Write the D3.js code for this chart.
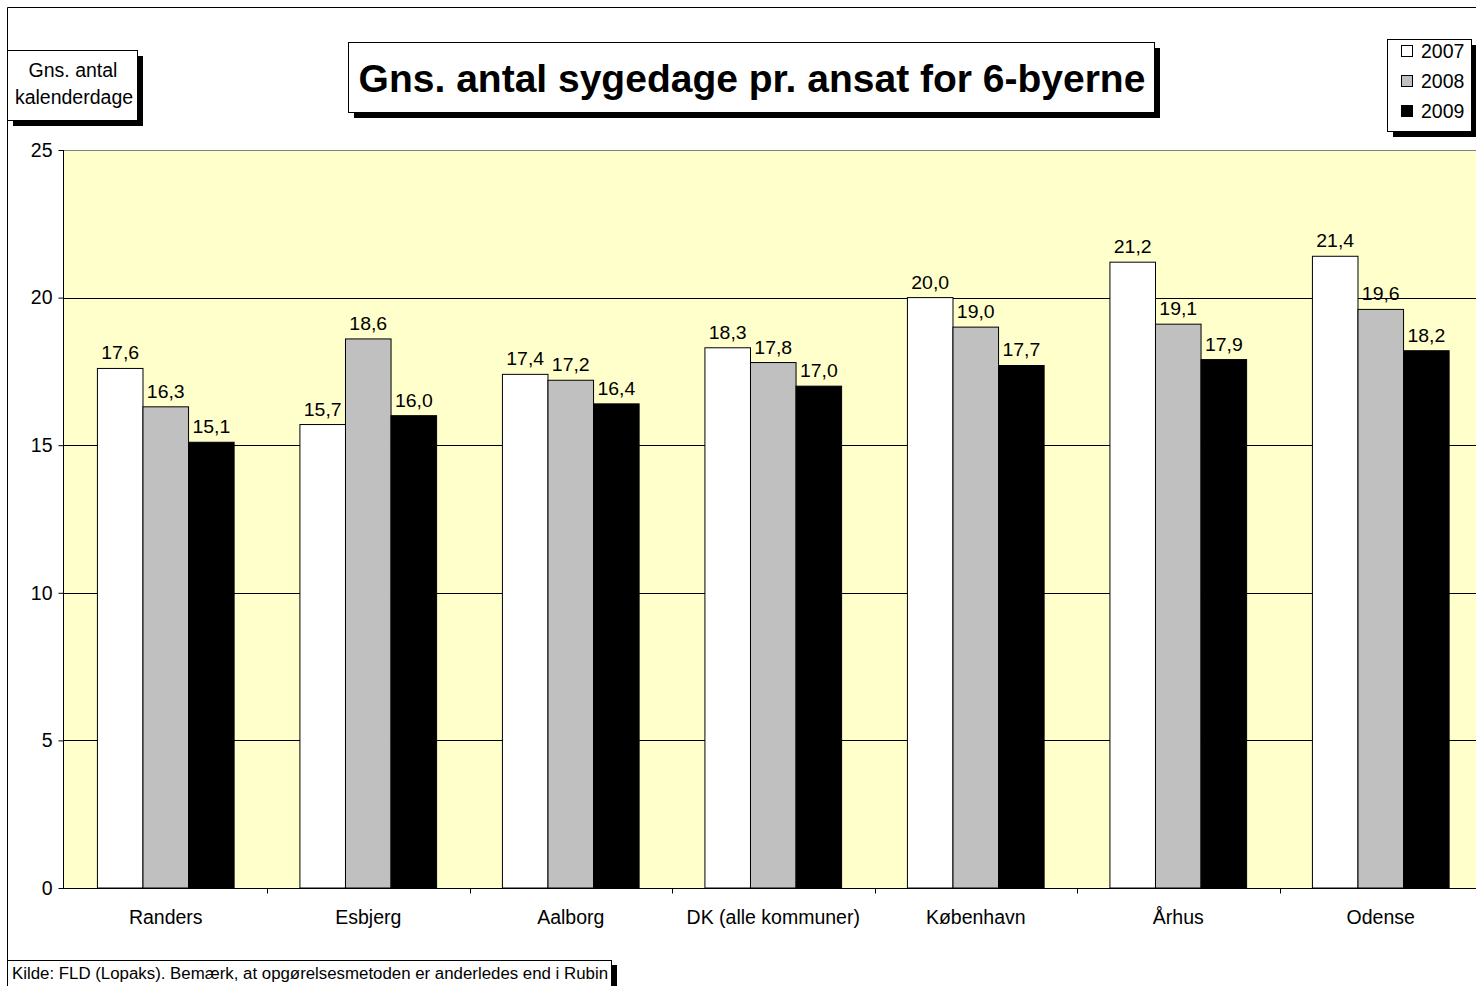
<!DOCTYPE html>
<html>
<head>
<meta charset="utf-8">
<script src="https://cdn.jsdelivr.net/npm/d3@7"></script>
<style>
  body { margin: 0; background: #fff; }
  svg { font-family: "Liberation Sans", Arial, sans-serif; }
</style>
</head>
<body>
<svg id="chart" width="1476" height="986"></svg>
<script>
// data
var cities = ["Randers", "Esbjerg", "Aalborg", "DK (alle kommuner)", "København", "Århus", "Odense"];
var years = ["2007", "2008", "2009"];
var v2007 = [17.6, 15.7, 17.4, 18.3, 20.0, 21.2, 21.4];
var v2008 = [16.3, 18.6, 17.2, 17.8, 19.0, 19.1, 19.6];
var v2009 = [15.1, 16.0, 16.4, 17.0, 17.7, 17.9, 18.2];
var yTicks = [0, 5, 10, 15, 20, 25];
var colors = ["#ffffff", "#c0c0c0", "#000000"];

var series = [v2007, v2008, v2009];
var svg = d3.select("#chart");
var fs = 19.5;

// outer chart border
svg.append("path").attr("d", "M7.5,986 V7.5 H1476").attr("fill", "none").attr("stroke", "#000");

var pLeft = 63, pTop = 150, pBottom = 888;
var pI = 0.325, pO = 0.17, step = 202.5;
var pRight = pLeft + step * (cities.length - pI + 2 * pO);

var x0 = d3.scaleBand().domain(cities).range([pLeft, pRight]).paddingInner(pI).paddingOuter(pO);
var x1 = d3.scaleBand().domain(years).range([0, x0.bandwidth()]);
var y = d3.scaleLinear().domain([0, 25]).range([pBottom, pTop]);

// plot background
svg.append("rect").attr("x", pLeft).attr("y", pTop).attr("width", pRight - pLeft).attr("height", pBottom - pTop)
  .attr("fill", "#ffffcc");
svg.append("line").attr("x1", pLeft).attr("x2", 1476).attr("y1", pTop + 0.5).attr("y2", pTop + 0.5)
  .attr("stroke", "#808080");

// gridlines
svg.append("g").selectAll("line").data(yTicks.filter(function(t){ return t > 0 && t < 25; }))
  .join("line")
  .attr("x1", pLeft).attr("x2", 1476)
  .attr("y1", function(d){ return Math.round(y(d)) + 0.5; })
  .attr("y2", function(d){ return Math.round(y(d)) + 0.5; })
  .attr("stroke", "#000");

// bars
var groups = svg.append("g").selectAll("g").data(cities).join("g")
  .attr("transform", function(d){ return "translate(" + x0(d) + ",0)"; });

function cells(d, i) {
  return years.map(function(yr, j){ return {year: yr, j: j, v: series[j][i]}; });
}

groups.selectAll("rect").data(cells)
  .join("rect")
  .attr("x", function(d){ return x1(d.year); })
  .attr("y", function(d){ return y(d.v); })
  .attr("width", x1.bandwidth())
  .attr("height", function(d){ return pBottom - y(d.v); })
  .attr("fill", function(d){ return colors[d.j]; })
  .attr("stroke", "#000").attr("stroke-width", 1);

// value labels (slightly wide, as in the original)
groups.selectAll("text").data(cells)
  .join("text")
  .attr("transform", function(d){
    return "translate(" + (x1(d.year) + x1.bandwidth() / 2) + "," + (y(d.v) - 9) + ") scale(1.08,1)";
  })
  .attr("text-anchor", "middle")
  .attr("font-size", 18)
  .text(function(d){ return d.v.toFixed(1).replace(".", ","); });

// y axis
var yAxis = svg.append("g").attr("transform", "translate(" + (pLeft + 0.5) + ",0)")
  .call(d3.axisLeft(y).tickValues(yTicks).tickSize(5).tickPadding(6).tickFormat(d3.format("d")));
yAxis.select(".domain").attr("d", "M0," + pTop + "V" + pBottom);
yAxis.selectAll("text").attr("font-size", fs).attr("font-family", "Liberation Sans, Arial, sans-serif")
  .attr("fill", "#000");
yAxis.selectAll("line").attr("stroke", "#000");

// x axis
var xAxis = svg.append("g").attr("transform", "translate(0," + (pBottom + 0.5) + ")");
xAxis.append("line").attr("x1", pLeft).attr("x2", 1476).attr("stroke", "#000");
xAxis.selectAll(".tk").data(cities).join("line")
  .attr("x1", function(d){ return Math.round(x0(d) + x0.bandwidth() / 2 + step / 2) + 0.5; })
  .attr("x2", function(d){ return Math.round(x0(d) + x0.bandwidth() / 2 + step / 2) + 0.5; })
  .attr("y1", 0).attr("y2", 5).attr("stroke", "#000");
xAxis.selectAll(".lbl").data(cities).join("text")
  .attr("x", function(d){ return x0(d) + x0.bandwidth() / 2; })
  .attr("y", 35)
  .attr("text-anchor", "middle")
  .attr("font-size", fs)
  .text(function(d){ return d; });

// box with drop shadow
function box(x, yy, w, h, off) {
  svg.append("rect").attr("x", x + off).attr("y", yy + off).attr("width", w).attr("height", h).attr("fill", "#000");
  svg.append("rect").attr("x", x + 0.5).attr("y", yy + 0.5).attr("width", w).attr("height", h)
    .attr("fill", "#fff").attr("stroke", "#000");
}

// title
box(348, 42, 806, 70, 6);
svg.append("text").attr("x", 752).attr("y", 92).attr("text-anchor", "middle")
  .attr("font-size", 39).attr("font-weight", "bold")
  .text("Gns. antal sygedage pr. ansat for 6-byerne");

// y label
box(7, 50, 130, 70, 6);
svg.append("text").attr("x", 73).attr("y", 77).attr("text-anchor", "middle").attr("font-size", fs).text("Gns. antal");
svg.append("text").attr("x", 74).attr("y", 104).attr("text-anchor", "middle").attr("font-size", fs).text("kalenderdage");

// legend
box(1387, 39, 84, 92, 6);
var lg = svg.append("g").selectAll("g").data(years).join("g")
  .attr("transform", function(d, i){ return "translate(1401," + (45 + i * 30) + ")"; });
lg.append("rect").attr("x", 0.5).attr("y", 0.5).attr("width", 11).attr("height", 11)
  .attr("fill", function(d, i){ return colors[i]; }).attr("stroke", "#000");
lg.append("text").attr("x", 20).attr("y", 13).attr("font-size", fs).text(function(d){ return d; });

// source
svg.append("rect").attr("x", 612).attr("y", 965).attr("width", 5).attr("height", 21).attr("fill", "#000");
svg.append("rect").attr("x", 7.5).attr("y", 960.5).attr("width", 604).attr("height", 30)
  .attr("fill", "#fff").attr("stroke", "#000");
svg.append("text").attr("x", 12).attr("y", 979).attr("font-size", 16)
  .attr("textLength", 596).attr("lengthAdjust", "spacingAndGlyphs")
  .text("Kilde: FLD (Lopaks). Bemærk, at opgørelsesmetoden er anderledes end i Rubin");
</script>
</body>
</html>
